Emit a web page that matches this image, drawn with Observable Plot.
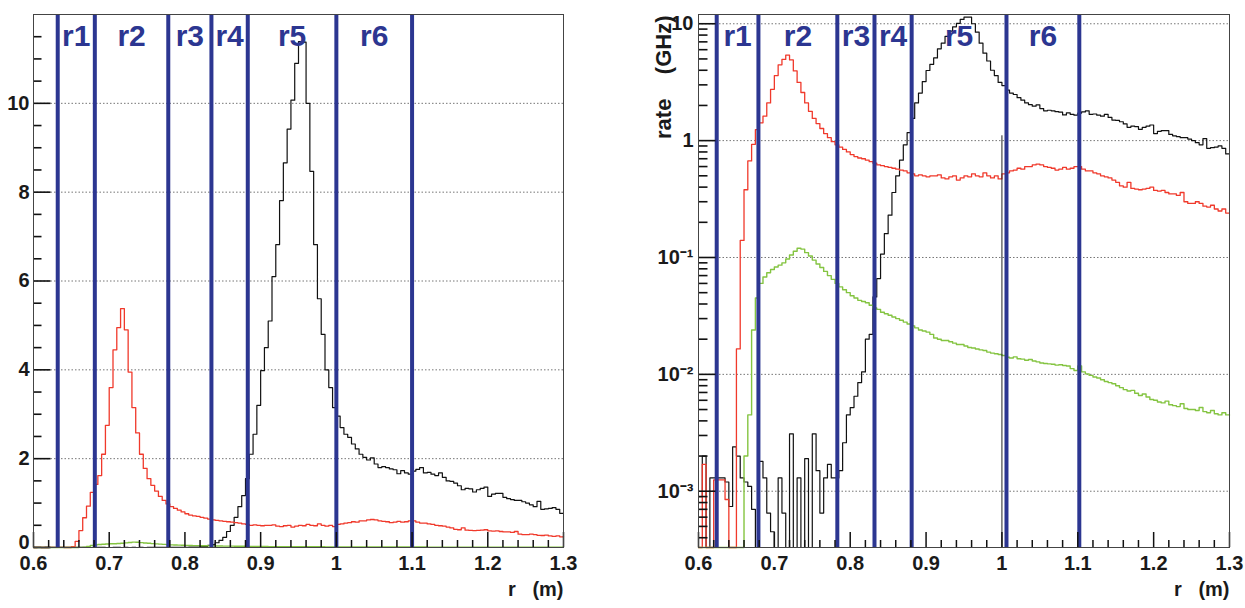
<!DOCTYPE html>
<html><head><meta charset="utf-8">
<script src="https://cdn.jsdelivr.net/npm/d3@7"></script>
<script src="https://cdn.jsdelivr.net/npm/@observablehq/plot@0.6"></script>
<style>
body{margin:0;background:#fff;width:1245px;height:608px;position:relative;overflow:hidden;font-family:"Liberation Sans",Arial,sans-serif}
#left{position:absolute;left:0;top:0}
#right{position:absolute;left:630px;top:0}
</style></head><body>
<div id="left"></div><div id="right"></div>
<script>
// histogram binning: 140 bins of 0.005 m from r = 0.6 m
const binStart = 0.6, binWidth = 0.005;

const blackRate = [
 0.0009,0.002,0,0.0013,0.0013,0.0013,0.0013,0.0012,0.00074,0.0024,
 0.002,0.0013,0.0012,0.0011,0.0007,0,0.0018,0.0013,0.00065,0.00045,
 0,0.0013,0.00065,0,0.0031,0,0.0013,0,0.0019,0,
 0.0031,0.0015,0.00065,0.0013,0.0017,0.0013,0.0013,0.0015,0.0026,0.0045,
 0.0052,0.0065,0.0085,0.0105,0.02,0.022,0.046,0.066,0.107,0.16,
 0.23,0.36,0.5,0.68,0.92,1.17,1.55,2.1,2.55,3.2,
 3.98,4.5,5.1,6.1,6.82,7.81,8.66,9.42,10.07,10.9,
 11.39,11.38,10.0,8.47,6.82,5.6,4.8,4.0,3.6,3.15,
 2.96,2.7,2.55,2.48,2.33,2.22,2.1,2.03,1.97,2.02,
 1.88,1.8,1.82,1.8,1.77,1.75,1.66,1.73,1.68,1.65,
 1.72,1.76,1.8,1.68,1.69,1.65,1.62,1.68,1.58,1.5,
 1.49,1.45,1.39,1.3,1.33,1.32,1.25,1.3,1.33,1.36,
 1.15,1.2,1.22,1.22,1.13,1.1,1.08,1.06,1.06,1.03,
 1.0,0.96,0.92,1.04,0.86,0.87,0.88,0.9,0.86,0.77
];
const redRate = [
 0,0.0017,0,0,0.00125,0.00125,0.00125,0.00085,0,0,
 0.0165,0.14,0.38,0.67,0.93,1.24,1.42,1.62,2.1,2.75,
 3.6,4.45,4.95,5.38,4.9,3.95,3.15,2.58,2.1,1.78,
 1.55,1.4,1.27,1.15,1.06,0.98,0.92,0.88,0.84,0.8,
 0.76,0.73,0.71,0.7,0.68,0.66,0.64,0.62,0.61,0.6,
 0.59,0.58,0.57,0.56,0.55,0.53,0.52,0.5,0.51,0.5,
 0.49,0.5,0.5,0.51,0.48,0.47,0.49,0.5,0.46,0.48,
 0.5,0.49,0.52,0.5,0.49,0.53,0.5,0.48,0.5,0.47,
 0.52,0.53,0.55,0.56,0.58,0.57,0.6,0.6,0.62,0.63,
 0.62,0.6,0.59,0.58,0.56,0.57,0.59,0.57,0.58,0.6,
 0.6,0.57,0.55,0.55,0.53,0.52,0.5,0.49,0.48,0.46,
 0.44,0.41,0.4,0.44,0.39,0.385,0.38,0.385,0.39,0.4,
 0.375,0.37,0.375,0.36,0.35,0.35,0.34,0.36,0.3,0.29,
 0.29,0.3,0.29,0.275,0.27,0.28,0.26,0.25,0.26,0.24
];
const greenRate = [
 0,0,0,0,0,0,0,0,0,0,
 0,0,0.002,0.0045,0.024,0.045,0.06,0.068,0.074,0.079,
 0.083,0.086,0.09,0.097,0.105,0.113,0.12,0.118,0.11,0.103,
 0.095,0.088,0.082,0.076,0.07,0.065,0.06,0.056,0.053,0.05,
 0.047,0.045,0.043,0.042,0.041,0.039,0.037,0.036,0.034,0.033,
 0.032,0.031,0.03,0.029,0.028,0.027,0.026,0.025,0.024,0.0235,
 0.023,0.022,0.0205,0.02,0.0195,0.0195,0.019,0.0185,0.018,0.018,
 0.0175,0.017,0.0168,0.0165,0.0162,0.016,0.0155,0.0152,0.015,0.0148,
 0.0145,0.014,0.0138,0.0141,0.0136,0.0135,0.0132,0.0134,0.013,0.0128,
 0.0125,0.0124,0.0123,0.0122,0.012,0.0121,0.0119,0.0118,0.0112,0.0108,
 0.0118,0.0105,0.0101,0.0098,0.0095,0.0093,0.009,0.0087,0.0085,0.0083,
 0.008,0.0077,0.0074,0.0072,0.0073,0.0069,0.0066,0.0068,0.0064,0.0061,
 0.006,0.0058,0.0057,0.0059,0.0055,0.0054,0.0053,0.0056,0.0051,0.005,
 0.005,0.0049,0.0052,0.0048,0.0047,0.0049,0.0046,0.0045,0.0047,0.0045
];

const regionNames = ["r1","r2","r3","r4","r5","r6"];
const leftBounds  = [0.632, 0.681, 0.778, 0.835, 0.883, 1.0, 1.1];
const rightBounds = [0.624, 0.679, 0.783, 0.832, 0.881, 1.006, 1.102];
const rightMarkR = [1.0], rightMarkTop = 1.1;

const xTicks = [0.6,0.7,0.8,0.9,1.0,1.1,1.2,1.3];
const xTickLabels = ["0.6","0.7","0.8","0.9","1","1.1","1.2","1.3"];
const linTicks = [0,2,4,6,8,10];
const linTickLabels = ["0","2","4","6","8","10"];
const logTicks = [1e-3,1e-2,1e-1,1,10];
const logTickLabels = ["10\u207B\u00B3","10\u207B\u00B2","10\u207B\u00B9","1","10"];

const xLabel = "r\u00A0\u00A0\u00A0(m)";
const yLabelRight = "rate\u00A0\u00A0\u00A0\u00A0(GHz)";

// ---------- derived ----------
const BLUE = "#2c3691";
const BLACK = "#111", RED = "#f0392b", GREEN = "#84c441";
const X0 = 0.6, X1 = 1.3;
const LOGMIN = 3.3e-4, LOGMAX = 12;
const TICK = "#111";

function steps(vals, floor) {
  const pts = [];
  vals.forEach((v, i) => {
    const x0 = binStart + i * binWidth, x1 = binStart + (i + 1) * binWidth;
    const y = floor != null ? Math.max(v, floor) : v;
    pts.push({x: x0, y}, {x: x1, y});
  });
  return pts;
}
function regionLabels(bounds) {
  return regionNames.map((name, i) => ({name, x: (bounds[i] + bounds[i + 1]) / 2}));
}
const xMinor = d3.range(30, 66).filter(i => i % 5 !== 0).map(i => i / 50);
const xLabelMap = new Map(xTicks.map((t, i) => [t.toFixed(2), xTickLabels[i]]));
const linMinor = d3.range(0, 24).filter(i => i % 4 !== 0).map(i => i / 2);
const linLabelMap = new Map(linTicks.map((t, i) => [t, linTickLabels[i]]));
const logMinor = [];
for (let e = -4; e <= 1; e++) for (let k = 2; k <= 9; k++) { const v = k * Math.pow(10, e); if (v >= LOGMIN && v <= LOGMAX) logMinor.push(v); }
const logLabelMap = new Map(logTicks.map((t, i) => [t, logTickLabels[i]]));

const style = {fontFamily: "'Liberation Sans', Arial, sans-serif", fontSize: "20px", fontWeight: "bold", color: "#1a1a1a", background: "transparent", overflow: "visible"};
const H = 608, MT = 14, MB = 61, INNER_H = H - MT - MB;

function xAxes() {
  return [
    Plot.ruleX(xMinor, {insetTop: INNER_H - 7, stroke: TICK, strokeWidth: 1.5}),
    Plot.ruleX(xTicks, {insetTop: INNER_H - 15, stroke: TICK, strokeWidth: 1.5}),
    Plot.axisX(xTicks, {tickSize: 0, tickPadding: 8, stroke: "none", label: null, tickFormat: d => xLabelMap.get((+d).toFixed(2))})
  ];
}
// inward y ticks drawn as links from the left frame edge
function yTicks(minor, major, innerW, minorLen) {
  const perPx = (X1 - X0) / innerW;
  const mk = (vals, len) => vals.map(v => ({v, a: X0, b: X0 + len * perPx}));
  return [
    Plot.link(mk(minor, minorLen), {x1: "a", x2: "b", y1: "v", y2: "v", stroke: TICK, strokeWidth: 1.6}),
    Plot.link(mk(major, 17), {x1: "a", x2: "b", y1: "v", y2: "v", stroke: TICK, strokeWidth: 1.6})
  ];
}
function histLines(floor) {
  return [
    Plot.line(steps(blackRate, floor), {x: "x", y: "y", stroke: BLACK, strokeWidth: 1.2}),
    Plot.line(steps(redRate, floor), {x: "x", y: "y", stroke: RED, strokeWidth: 1.3}),
    Plot.line(steps(greenRate, floor), {x: "x", y: "y", stroke: GREEN, strokeWidth: 1.4})
  ];
}

const LW = 600, LML = 33, LMR = 37;
const left = Plot.plot({
  width: LW, height: H, marginLeft: LML, marginRight: LMR, marginTop: MT, marginBottom: MB,
  style,
  x: {domain: [X0, X1]},
  y: {domain: [0, 12]},
  marks: [
    Plot.gridY(linTicks.filter(d => d > 0), {stroke: "#666", strokeOpacity: 1, strokeDasharray: "1.5,2", strokeWidth: 0.9}),
    ...histLines(null),
    Plot.ruleX(leftBounds, {stroke: BLUE, strokeWidth: 4}),
    Plot.text(regionLabels(leftBounds), {x: "x", text: "name", frameAnchor: "top", dy: 22, lineAnchor: "middle", fontSize: 30, fontWeight: "bold", fill: BLUE}),
    ...xAxes(),
    ...yTicks(linMinor, linTicks, LW - LML - LMR, 8),
    Plot.axisY(linTicks.filter(d => d > 0), {tickSize: 0, tickPadding: 4, stroke: "none", label: null, tickFormat: d => linLabelMap.get(d)}),
    Plot.axisY([0], {tickSize: 0, tickPadding: 4, dy: -5, stroke: "none", label: null, tickFormat: d => linLabelMap.get(d)}),
    Plot.text([xLabel], {frameAnchor: "bottom-right", textAnchor: "end", dy: 48, fontSize: 20, fontWeight: "bold"}),
    Plot.frame({stroke: "#444"})
  ]
});
document.getElementById("left").appendChild(left);

const RW = 615, RML = 68, RMR = 16;
const right = Plot.plot({
  width: RW, height: H, marginLeft: RML, marginRight: RMR, marginTop: MT, marginBottom: MB,
  style,
  x: {domain: [X0, X1]},
  y: {type: "log", domain: [LOGMIN, LOGMAX]},
  marks: [
    Plot.gridY(logTicks, {stroke: "#666", strokeOpacity: 1, strokeDasharray: "1.5,2", strokeWidth: 0.9}),
    ...histLines(LOGMIN),
    Plot.ruleX(rightMarkR, {y1: LOGMIN, y2: rightMarkTop, stroke: "#222", strokeWidth: 1}),
    Plot.ruleX(rightBounds, {stroke: BLUE, strokeWidth: 4}),
    Plot.text(regionLabels(rightBounds), {x: "x", text: "name", frameAnchor: "top", dy: 22, lineAnchor: "middle", fontSize: 30, fontWeight: "bold", fill: BLUE}),
    ...xAxes(),
    ...yTicks(logMinor, logTicks, RW - RML - RMR, 9),
    Plot.axisY(logTicks, {tickSize: 0, tickPadding: 5, stroke: "none", label: null, tickFormat: d => logLabelMap.get(d)}),
    Plot.text([xLabel], {frameAnchor: "bottom-right", textAnchor: "end", dy: 48, fontSize: 20, fontWeight: "bold"}),
    Plot.text([yLabelRight], {frameAnchor: "top-left", rotate: -90, textAnchor: "end", dx: -43, dy: 1, fontSize: 22, fontWeight: "bold"}),
    Plot.frame({stroke: "#444"})
  ]
});
document.getElementById("right").appendChild(right);
</script>
</body></html>
